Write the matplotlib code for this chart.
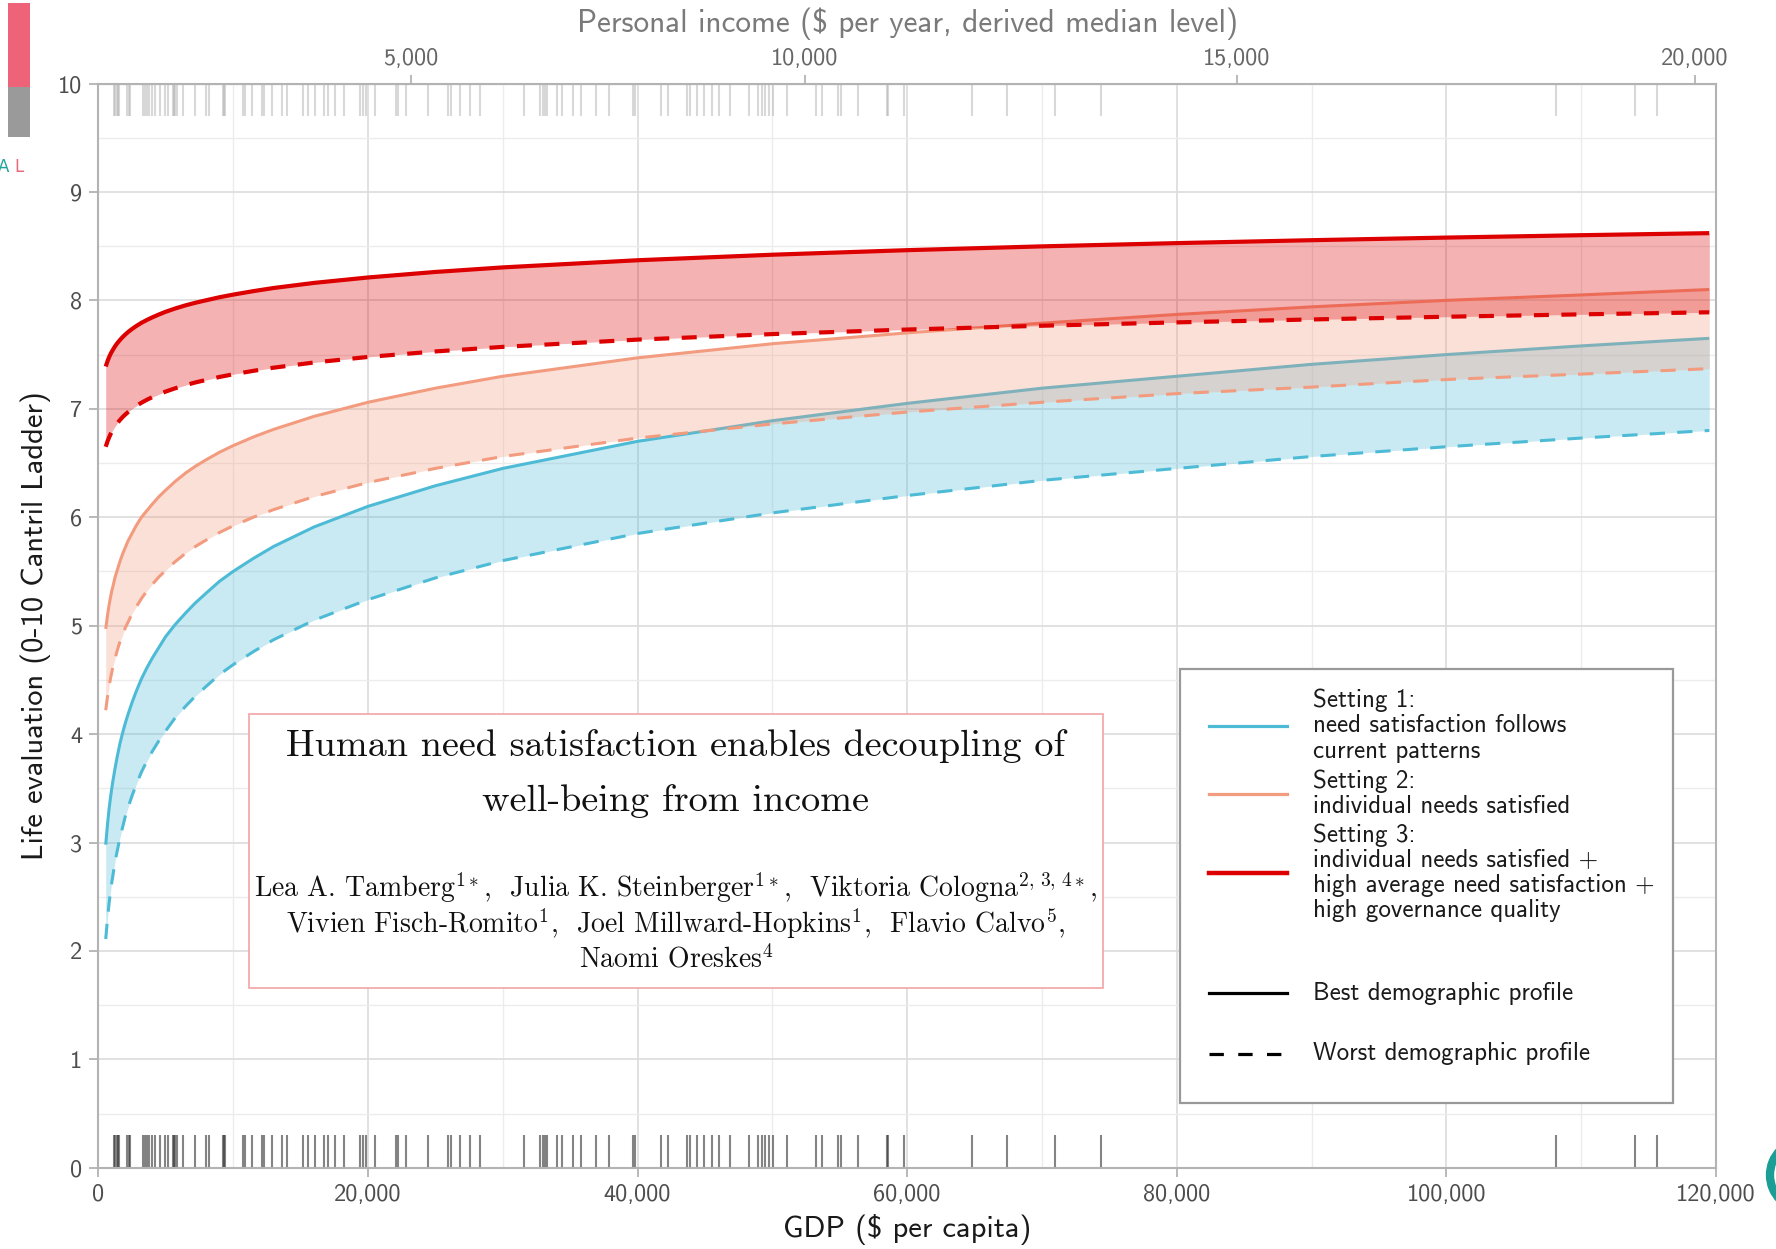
import numpy as np
import matplotlib.pyplot as plt
from matplotlib.ticker import FuncFormatter, MultipleLocator
from matplotlib.patches import Rectangle, Arc
from matplotlib.lines import Line2D

plt.rcParams['font.family'] = ['cmss10', 'DejaVu Sans']
plt.rcParams['mathtext.fontset'] = 'cm'
plt.rcParams['axes.unicode_minus'] = False

gdp = np.array([550, 700, 800, 900, 1000, 1100, 1250, 1400, 1600, 1800,
                2000, 2200, 2500, 2800, 3200, 3600, 4000, 4500, 5000, 5700,
                6500, 7200, 8000, 9000, 10000, 11500, 13000, 16000, 20000, 25000,
                30000, 40000, 50000, 60000, 70000, 80000, 90000, 100000, 110000, 119500])

# life evaluation, best / worst demographic profile
s1_best = [2.98, 3.19, 3.31, 3.41, 3.50, 3.58, 3.69, 3.79, 3.91, 4.01,
           4.10, 4.18, 4.29, 4.39, 4.51, 4.61, 4.70, 4.80, 4.90, 5.01,
           5.12, 5.21, 5.30, 5.41, 5.50, 5.62, 5.73, 5.91, 6.10, 6.29,
           6.45, 6.70, 6.89, 7.05, 7.19, 7.30, 7.41, 7.50, 7.58, 7.65]
s1_worst = [2.11, 2.32, 2.44, 2.54, 2.63, 2.71, 2.83, 2.92, 3.04, 3.14,
            3.24, 3.32, 3.43, 3.53, 3.65, 3.75, 3.84, 3.94, 4.03, 4.15,
            4.26, 4.35, 4.44, 4.55, 4.64, 4.76, 4.87, 5.05, 5.24, 5.44,
            5.60, 5.85, 6.04, 6.20, 6.34, 6.45, 6.56, 6.65, 6.73, 6.80]
s2_best = [4.97, 5.11, 5.19, 5.26, 5.32, 5.37, 5.45, 5.51, 5.59, 5.66,
           5.72, 5.78, 5.85, 5.92, 6.00, 6.06, 6.12, 6.19, 6.25, 6.33,
           6.41, 6.47, 6.53, 6.60, 6.66, 6.74, 6.81, 6.93, 7.06, 7.19,
           7.30, 7.47, 7.60, 7.70, 7.79, 7.87, 7.94, 8.00, 8.05, 8.10]
s2_worst = [4.22, 4.36, 4.44, 4.51, 4.57, 4.63, 4.70, 4.77, 4.85, 4.91,
            4.98, 5.03, 5.11, 5.17, 5.25, 5.32, 5.38, 5.45, 5.51, 5.59,
            5.67, 5.73, 5.79, 5.86, 5.92, 6.00, 6.07, 6.19, 6.32, 6.45,
            6.56, 6.73, 6.86, 6.97, 7.06, 7.14, 7.20, 7.27, 7.32, 7.37]
s3_best = [7.390, 7.445, 7.476, 7.503, 7.527, 7.548, 7.578, 7.604, 7.634, 7.661,
           7.685, 7.707, 7.736, 7.762, 7.793, 7.819, 7.843, 7.870, 7.895, 7.925,
           7.955, 7.978, 8.001, 8.029, 8.053, 8.085, 8.114, 8.161, 8.211, 8.262,
           8.304, 8.370, 8.421, 8.463, 8.498, 8.528, 8.555, 8.579, 8.601, 8.620]
s3_worst = [6.650, 6.706, 6.736, 6.763, 6.788, 6.810, 6.839, 6.865, 6.896, 6.923,
            6.947, 6.969, 6.999, 7.025, 7.056, 7.083, 7.107, 7.134, 7.159, 7.189,
            7.219, 7.243, 7.266, 7.294, 7.318, 7.350, 7.379, 7.427, 7.478, 7.529,
            7.571, 7.638, 7.689, 7.731, 7.766, 7.797, 7.824, 7.849, 7.871, 7.890]

# observed country GDPs (rug)
rug_gdp = [1160, 1250, 1360, 1450, 1560, 2150, 2250, 2350, 3290, 3460, 3640, 3790, 3960,
           4210, 4580, 4950, 5190, 5520, 5600, 5690, 5860, 6310, 7170, 7990, 8190, 9230,
           9330, 9420, 10710, 10910, 11380, 12120, 12290, 12860, 13600, 13980, 15160,
           15580, 16080, 16770, 17070, 17560, 18230, 19410, 19660, 19860, 20530, 22080,
           22260, 22830, 24480, 25960, 26140, 26830, 27570, 28320, 31550, 32770, 32970,
           33140, 33260, 34020, 34380, 35180, 35800, 36920, 37910, 39640, 39810, 41720,
           42240, 43650, 43890, 44390, 44930, 45500, 46070, 46860, 48290, 48960, 49210,
           49460, 49780, 50070, 51110, 53240, 53660, 54900, 55070, 56380, 58490, 58600,
           59770, 64790, 67440, 71000, 74350, 108100, 113970, 115630]

income_ticks = [5000, 10000, 15000, 20000]
# income ~ c * GDP^b (derived median level)
INC_C, INC_B = 0.974, 0.85

BLUE, SALMON, RED = '#4DBBD5', '#F39B7F', '#DC0000'
settings = [(s1_best, s1_worst, BLUE, 2.2), (s2_best, s2_worst, SALMON, 2.2),
            (s3_best, s3_worst, RED, 3.0)]

fig = plt.figure(figsize=(17.76, 12.49), dpi=100)
ax = fig.add_axes([0.05535, 0.06501, 0.91087, 0.86813])

z = 3
for best, worst, col, lw in settings:
    ax.fill_between(gdp, worst, best, color=col, alpha=0.3, lw=0, zorder=z)
    ax.plot(gdp, best, color=col, lw=lw, zorder=z + 1, solid_capstyle='butt')
    ax.plot(gdp, worst, color=col, lw=lw, ls=(0, (5, 4)) if lw < 3 else (0, (3.6, 3)),
            zorder=z + 1)
    z += 2

# rugs
ax.vlines(rug_gdp, 0, 0.3, color='#333333', alpha=0.6, lw=1.5, zorder=2)
ax.vlines(rug_gdp, 9.7, 10, color='#aaaaaa', alpha=0.45, lw=1.5, zorder=2)

ax.set_xlim(0, 120000)
ax.set_ylim(0, 10)
ax.xaxis.set_major_locator(MultipleLocator(20000))
ax.xaxis.set_minor_locator(MultipleLocator(10000))
ax.yaxis.set_major_locator(MultipleLocator(1))
ax.yaxis.set_minor_locator(MultipleLocator(0.5))
ax.xaxis.set_major_formatter(FuncFormatter(lambda v, p: f'{v:,.0f}'))
ax.grid(which='major', color='#dcdcdc', lw=1.2, zorder=0)
ax.grid(which='minor', color='#ececec', lw=1.0, zorder=0)
ax.set_axisbelow(True)
for s in ax.spines.values():
    s.set_color('#b3b3b3')
    s.set_linewidth(1.5)
ax.tick_params(which='major', length=6.5, width=1.3, color='#b3b3b3',
               labelcolor='#4d4d4d', labelsize=17.5, pad=5)
ax.tick_params(which='minor', length=0)

ax.set_xlabel('GDP (\\$ per capita)', fontsize=22, color='#1a1a1a', labelpad=6)
ax.set_ylabel('Life evaluation (0-10 Cantril Ladder)', fontsize=22, color='#1a1a1a',
              labelpad=5)


def gdp_to_income(g):
    return INC_C * np.clip(g, 1e-6, None) ** INC_B


def income_to_gdp(i):
    return (np.clip(i, 1e-6, None) / INC_C) ** (1 / INC_B)


top = ax.secondary_xaxis('top', functions=(gdp_to_income, income_to_gdp))
top.set_xticks(income_ticks)
top.xaxis.set_major_formatter(FuncFormatter(lambda v, p: f'{v:,.0f}'))
top.tick_params(length=6.5, width=1.3, color='#b3b3b3', labelcolor='#666666',
                labelsize=17.5, pad=3)
top.spines['top'].set_color('#b3b3b3')
top.set_xlabel('Personal income (\\$ per year, derived median level)', fontsize=22.5,
               color='#7a7a7a', labelpad=12)

# title box
ax.add_patch(Rectangle((0.0932, 0.1661), 0.5279, 0.2528, transform=ax.transAxes,
                       facecolor='white', edgecolor='#f4a3a3', lw=1.2, zorder=10))
ax.text(0.3571, 0.389, 'Human need satisfaction enables decoupling of',
        transform=ax.transAxes, ha='center', va='center', fontsize=27.5,
        family='cmr10', color='#111111', zorder=11)
ax.text(0.3571, 0.3378, 'well-being from income', transform=ax.transAxes,
        ha='center', va='center', fontsize=27.5, family='cmr10', color='#111111', zorder=11)
authors = ['Lea A. Tamberg$^{1*}$,  Julia K. Steinberger$^{1*}$,  Viktoria Cologna$^{2,\\,3,\\,4*}$,',
           'Vivien Fisch-Romito$^{1}$,  Joel Millward-Hopkins$^{1}$,  Flavio Calvo$^{5}$,',
           'Naomi Oreskes$^{4}$']
for k, line in enumerate(authors):
    ax.text(0.3571, 0.2588 - k * 0.0333, line, transform=ax.transAxes, ha='center',
            va='center', fontsize=20, family='cmr10', color='#111111', zorder=11)

# legend box
ax.add_patch(Rectangle((0.6685, 0.0599), 0.3049, 0.4003, transform=ax.transAxes,
                       facecolor='white', edgecolor='#999999', lw=1.6, zorder=10))
leg_items = [(BLUE, '-', 2.3, 0.4077, 'Setting 1:\nneed satisfaction follows\ncurrent patterns'),
             (SALMON, '-', 2.3, 0.3447, 'Setting 2:\nindividual needs satisfied'),
             (RED, '-', 3.2, 0.2719, 'Setting 3:\nindividual needs satisfied +\n'
                                     'high average need satisfaction +\nhigh governance quality'),
             ('black', '-', 2.3, 0.1612, 'Best demographic profile'),
             ('black', (0, (4.5, 4.5)), 2.3, 0.1050, 'Worst demographic profile')]
for col, ls, lw, yy, lab in leg_items:
    ax.add_line(Line2D([0.6866, 0.7348], [yy, yy], transform=ax.transAxes, color=col,
                       ls=ls, lw=lw, zorder=11))
    ax.text(0.7509, yy, lab, transform=ax.transAxes, ha='left', va='center',
            fontsize=18, linespacing=1.12, color='#1a1a1a', zorder=11)

# page fragments visible in the screenshot
fig.add_artist(Rectangle((8 / 1776, 1 - 87 / 1249), 22 / 1776, 84 / 1249,
                         transform=fig.transFigure, color='#ee6378', lw=0))
fig.add_artist(Rectangle((8 / 1776, 1 - 137 / 1249), 22 / 1776, 50 / 1249,
                         transform=fig.transFigure, color='#9a9a9a', lw=0))
fig.text(-2 / 1776, 1 - 172 / 1249, 'A', color='#21a39a', fontsize=12, family='DejaVu Sans')
fig.text(14 / 1776, 1 - 172 / 1249, 'L', color='#e8697b', fontsize=12, family='DejaVu Sans')
fig.add_artist(Arc((1805 / 1776, 1 - 1175 / 1249), 70 / 1776, 70 / 1249,
                   transform=fig.transFigure, color='#1a9e96', lw=6))

fig.savefig('out.png', dpi=100)
